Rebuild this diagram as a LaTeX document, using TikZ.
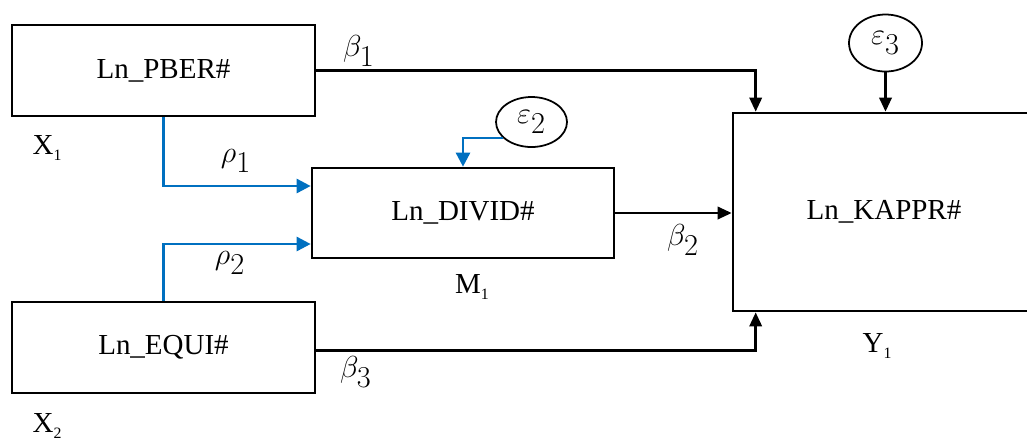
\documentclass[tikz,border=0pt]{standalone}
\usepackage{fontspec}
\setmainfont{Liberation Serif}
\usepackage{amsmath}
\usetikzlibrary{arrows.meta,positioning,shapes.geometric,calc}
\definecolor{pathblue}{HTML}{0070C0}
\tikzset{
  varbox/.style={draw=black, fill=white, line width=1.5pt, align=center, inner sep=0pt, font=\fontsize{16.5}{19}\selectfont},
  errnode/.style={ellipse, draw=black, line width=1pt, inner sep=0pt, font=\fontsize{18}{20}\selectfont},
  lbl/.style={inner sep=0pt, font=\fontsize{16.5}{19}\selectfont},
  coeflbl/.style={inner sep=0pt, font=\fontsize{18.5}{20}\selectfont},
  edge/.style={-{Triangle[length=8pt, width=7pt]}, line width=1.5pt, draw=black},
  blueedge/.style={-{Triangle[length=8pt, width=8pt]}, line width=1.5pt, draw=pathblue}
}
\newcommand{\subone}[1]{\raisebox{-0.5ex}{\fontsize{9}{9}\selectfont #1}}
\newcommand{\coef}[2]{$#1_{\textstyle #2}$}
\begin{document}
\begin{tikzpicture}[x=0.02cm, y=-0.02cm]
  \useasboundingbox (0,0) rectangle (1027,441);
  % variable boxes
  \node[varbox, minimum width=303*0.02cm, minimum height=91*0.02cm] (pber) at (163.5,70.5) {Ln\_PBER\#};
  \node[varbox, minimum width=303*0.02cm, minimum height=91*0.02cm] (equi) at (163.5,347.5) {Ln\_EQUI\#};
  \node[varbox, minimum width=302*0.02cm, minimum height=90*0.02cm] (divid) at (463,213) {Ln\_DIVID\#};
  \node[varbox, minimum width=297*0.02cm, minimum height=198*0.02cm] (kappr) at (881.5,212) {\hspace*{0.1cm}Ln\_KAPPR\#};
  % error terms
  \node[errnode, minimum width=71*0.02cm, minimum height=50*0.02cm] (eps2) at (531.5,122) {\coef{\varepsilon}{2}};
  \node[errnode, minimum width=73*0.02cm, minimum height=57*0.02cm] (eps3) at (885.5,43) {\coef{\varepsilon}{3}};
  % paths
  \draw[blueedge] (pber.south) |- ($(divid.west)+(0,-27)$);
  \draw[blueedge] (equi.north) |- ($(divid.west)+(0,31)$);
  \draw[blueedge] (eps2.209) -| (divid.north);
  \draw[edge] (pber.east) -| ($(kappr.north west)+(24,0)$);
  \draw[edge] (eps3.south) -- (eps3.south |- kappr.north);
  \draw[edge] (divid.east) -- (divid.east -| kappr.west);
  \draw[edge] ($(equi.east)+(0,3)$) -| ($(kappr.south west)+(24,0)$);
  % coefficients
  \node[coeflbl] (b1) at (359,51) {\coef{\beta}{1}};
  \node[coeflbl] (b2) at (683,240) {\coef{\beta}{2}};
  \node[coeflbl] (b3) at (356,372) {\coef{\beta}{3}};
  \node[coeflbl] (r1) at (236,161) {\coef{\rho}{1}};
  \node[coeflbl] (r2) at (230,263) {\coef{\rho}{2}};
  % variable names
  \node[lbl] (x1) at (47,148) {X\subone{1}};
  \node[lbl] (x2) at (47,426) {X\subone{2}};
  \node[lbl] (m1) at (472,287) {M\subone{1}};
  \node[lbl] (y1) at (877,346) {Y\subone{1}};
\end{tikzpicture}
\end{document}
